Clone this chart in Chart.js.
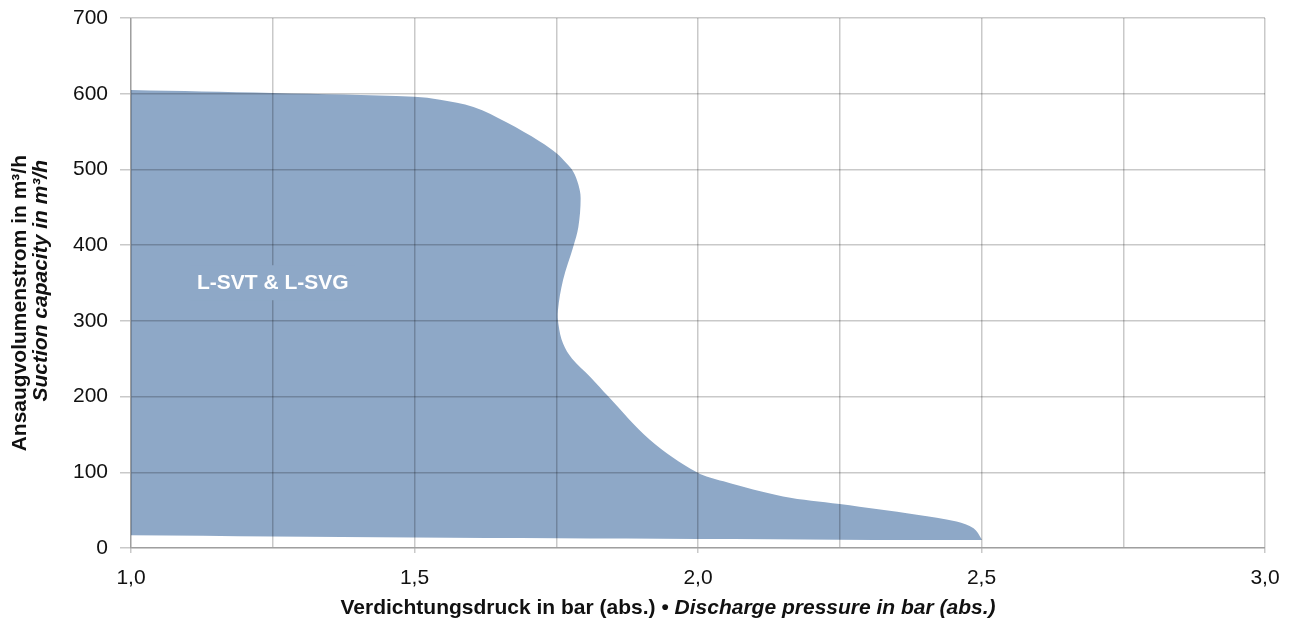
<!DOCTYPE html>
<html lang="de">
<head>
<meta charset="UTF-8">
<title>Ansaugvolumenstrom L-SVT & L-SVG</title>
<style>
    body { margin: 0; background: #fff; }
    canvas { display: block; }
</style>
</head>
<body>
<canvas id="chartCanvas" width="1290" height="623"></canvas>
<script src="https://cdn.jsdelivr.net/npm/chart.js@4"></script>
<script>
const pressureBar = [1.000, 1.250, 1.500, 1.545, 1.604, 1.663, 1.721, 1.751, 1.768, 1.780, 1.789,
    1.793, 1.789, 1.780, 1.762, 1.753, 1.754, 1.762, 1.778, 1.810, 1.842, 1.915, 1.998, 2.045,
    2.150, 2.250, 2.386, 2.456, 2.486, 2.500, 2.500, 2.000, 1.500, 1.000];
const suctionCapacity = [605, 601, 596, 592, 582.5, 562, 537, 521, 508, 497, 480,
    462, 424, 398, 354, 314, 295, 270, 250, 226, 200, 143, 100, 88,
    68, 58, 44, 35, 26, 12, 10.5, 12, 14, 17];

const areaLabel = 'L-SVT & L-SVG';
const labelAt = { x: 1.25, y: 351 };

const xTitleDe = 'Verdichtungsdruck in bar (abs.) • ';
const xTitleEn = 'Discharge pressure in bar (abs.)';
const yTitleDe = 'Ansaugvolumenstrom in m³/h';
const yTitleEn = 'Suction capacity in m³/h';

const FONT = '"Liberation Sans", Arial, Helvetica, sans-serif';
const fillColor = '#8ea8c7';
const gridColor = 'rgba(0, 0, 0, 0.21)';

const points = pressureBar.map((p, i) => ({ x: p, y: suctionCapacity[i] }));

// Beschriftungen (Achsentitel mit gemischten Schnitten + Flaechenname)
const textPlugin = {
    id: 'texts',
    afterDraw(chart) {
        const ctx = chart.ctx;
        const xs = chart.scales.x, ys = chart.scales.y;

        // Flaechenname mit Hintergrund, damit die Gitterlinie unterbrochen wird
        ctx.save();
        ctx.font = 'bold 21px ' + FONT;
        const lx = xs.getPixelForValue(labelAt.x);
        const ly = ys.getPixelForValue(labelAt.y);
        const lw = ctx.measureText(areaLabel).width;
        ctx.fillStyle = fillColor;
        ctx.fillRect(lx - lw / 2 - 6, ly - 17, lw + 12, 35);
        ctx.fillStyle = '#fff';
        ctx.textAlign = 'center';
        ctx.textBaseline = 'middle';
        ctx.fillText(areaLabel, lx, ly + 1);
        ctx.restore();

        // x-Titel
        ctx.save();
        ctx.fillStyle = '#111';
        ctx.textBaseline = 'alphabetic';
        ctx.font = 'bold 21px ' + FONT;
        const w1 = ctx.measureText(xTitleDe).width;
        ctx.font = 'italic bold 21px ' + FONT;
        const w2 = ctx.measureText(xTitleEn).width;
        const tx = 668 - (w1 + w2) / 2;
        ctx.font = 'bold 21px ' + FONT;
        ctx.fillText(xTitleDe, tx, 614);
        ctx.font = 'italic bold 21px ' + FONT;
        ctx.fillText(xTitleEn, tx + w1, 614);
        ctx.restore();

        // y-Titel (zweizeilig, gedreht)
        ctx.save();
        ctx.fillStyle = '#111';
        ctx.textAlign = 'right';
        ctx.textBaseline = 'alphabetic';
        ctx.translate(26, 155);
        ctx.rotate(-Math.PI / 2);
        ctx.font = 'bold 21px ' + FONT;
        ctx.fillText(yTitleDe, 0, 0);
        ctx.restore();

        ctx.save();
        ctx.fillStyle = '#111';
        ctx.textAlign = 'right';
        ctx.textBaseline = 'alphabetic';
        ctx.translate(47, 160);
        ctx.rotate(-Math.PI / 2);
        ctx.font = 'italic bold 21px ' + FONT;
        ctx.fillText(yTitleEn, 0, 0);
        ctx.restore();
    }
};

Chart.defaults.font.family = FONT;
Chart.defaults.font.size = 21;
Chart.defaults.color = '#111';

const chart = new Chart(document.getElementById('chartCanvas').getContext('2d'), {
    type: 'scatter',
    data: {
        datasets: [{
            label: areaLabel,
            data: points,
            showLine: true,
            fill: 'shape',
            tension: 0.35,
            borderWidth: 0,
            borderColor: fillColor,
            backgroundColor: fillColor,
            pointRadius: 0
        }]
    },
    options: {
        responsive: false,
        animation: false,
        layout: { padding: { left: 0, top: 18, right: 25, bottom: 0 } },
        plugins: {
            legend: { display: false },
            tooltip: { enabled: false }
        },
        scales: {
            x: {
                type: 'linear',
                min: 1,
                max: 3,
                afterFit: s => { s.height = 75; s.paddingLeft = 0; s.paddingRight = 0; },
                ticks: {
                    stepSize: 0.25,
                    padding: 13,
                    maxRotation: 0,
                    autoSkip: false,
                    callback: v => (Math.abs(v * 2 - Math.round(v * 2)) < 1e-6) ? v.toFixed(1).replace('.', ',') : ''
                },
                grid: {
                    z: 1,
                    color: gridColor,
                    lineWidth: 1.5,
                    tickLength: 5,
                    tickColor: c => (Math.abs(c.tick.value * 2 - Math.round(c.tick.value * 2)) < 1e-6) ? gridColor : 'transparent'
                },
                border: { color: gridColor, width: 1.5, z: 1 }
            },
            y: {
                min: 0,
                max: 700,
                afterFit: s => { s.width = 131; s.paddingTop = 0; s.paddingBottom = 0; },
                ticks: { stepSize: 100, padding: 12 },
                grid: { z: 1, color: gridColor, lineWidth: 1.5, tickLength: 11 },
                border: { color: gridColor, width: 1.5, z: 1 }
            }
        }
    },
    plugins: [textPlugin]
});
</script>
</body>
</html>
